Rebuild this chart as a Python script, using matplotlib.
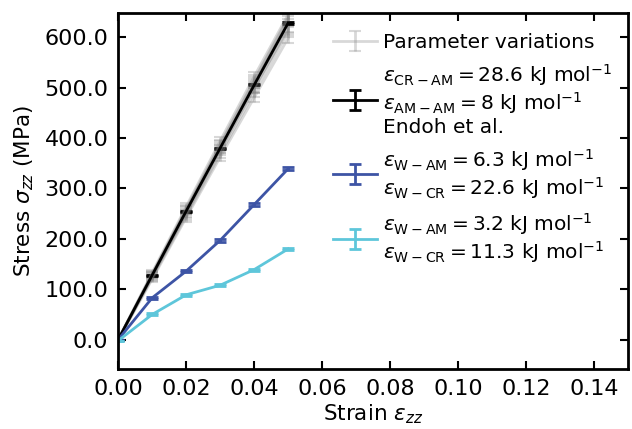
import matplotlib
matplotlib.use("Agg")
import matplotlib.pyplot as plt
from matplotlib.ticker import FormatStrFormatter

plt.rcParams['mathtext.fontset'] = 'dejavusans'

strain = [0.0, 0.01, 0.02, 0.03, 0.04, 0.05]

# parameter sweep around the reference set
variations = [
    [0, 120, 242, 362, 480, 598],
    [0, 123, 246, 368, 490, 610],
    [0, 125, 252, 378, 500, 615],
    [0, 126, 250, 374, 498, 620],
    [0, 128, 256, 382, 508, 632],
    [0, 129, 258, 385, 512, 636],
    [0, 131, 260, 388, 515, 640],
    [0, 133, 264, 394, 522, 645],
]
var_err = [0, 6, 8, 8, 9, 10]

endoh = [0, 128, 255, 380, 505, 628]
endoh_err = [0, 1, 1, 1, 1, 2]

w_high = [0, 83, 136, 197, 268, 339]
w_high_err = [0, 2, 2, 3, 3, 3]

w_low = [-2, 50, 89, 108, 139, 180]
w_low_err = [0, 2, 2, 2, 2, 2]

labels = [
    "Parameter variations",
    "$\\varepsilon_{\\rm CR-AM} = 28.6$ kJ mol$^{-1}$\n"
    "$\\varepsilon_{\\rm AM-AM} = 8$ kJ mol$^{-1}$\nEndoh et al.",
    "$\\varepsilon_{\\rm W-AM} = 6.3$ kJ mol$^{-1}$\n"
    "$\\varepsilon_{\\rm W-CR} = 22.6$ kJ mol$^{-1}$",
    "$\\varepsilon_{\\rm W-AM} = 3.2$ kJ mol$^{-1}$\n"
    "$\\varepsilon_{\\rm W-CR} = 11.3$ kJ mol$^{-1}$",
]

blue = "#3d54a5"
cyan = "#5ec6da"

fig = plt.figure(figsize=(6.32, 4.29), dpi=100)
ax = fig.add_axes([0.187, 0.140, 0.807, 0.830])

for i, v in enumerate(variations):
    ax.errorbar(strain, v, yerr=var_err, color="gray", alpha=0.3, lw=2,
                capsize=4, capthick=1.5,
                label=labels[0] if i == 0 else None)

ax.errorbar(strain, endoh, yerr=endoh_err, color="black", lw=2,
            capsize=4, capthick=2, label=labels[1])
ax.errorbar(strain, w_high, yerr=w_high_err, color=blue, lw=2,
            capsize=4, capthick=2, label=labels[2])
ax.errorbar(strain, w_low, yerr=w_low_err, color=cyan, lw=2,
            capsize=4, capthick=2, label=labels[3])

ax.set_xlim(0, 0.15)
ax.set_ylim(-58, 648)
ax.set_xticks([0.0, 0.02, 0.04, 0.06, 0.08, 0.10, 0.12, 0.14])
ax.set_yticks([0, 100, 200, 300, 400, 500, 600])
ax.xaxis.set_major_formatter(FormatStrFormatter('%.2f'))
ax.yaxis.set_major_formatter(FormatStrFormatter('%.1f'))
ax.tick_params(direction="in", top=True, right=True, length=6, width=1.5,
               labelsize=16, pad=7)
for s in ax.spines.values():
    s.set_linewidth(2)

ax.set_xlabel("Strain $\\varepsilon_{zz}$", fontsize=15.5, labelpad=3)
ax.set_ylabel("Stress $\\sigma_{zz}$ (MPa)", fontsize=15.5, labelpad=6)

leg = ax.legend(loc="upper left", bbox_to_anchor=(0.385, 0.995), frameon=False,
                fontsize=14.5, handlelength=2.2, labelspacing=0.5,
                handletextpad=0.3)
for t in leg.get_texts():
    t.set_linespacing(1.12)

fig.savefig("out.png", dpi=100)
